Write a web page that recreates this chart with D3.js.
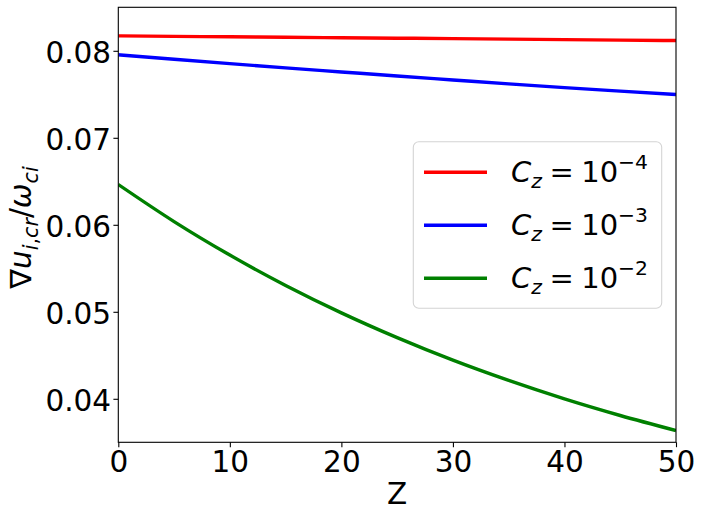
<!DOCTYPE html>
<html>
<head>
<meta charset="utf-8">
<script src="https://cdn.jsdelivr.net/npm/d3@7"></script>
<style>
  html, body { margin: 0; padding: 0; background: #fff; }
  svg { display: block; }
  text { font-family: "DejaVu Sans", sans-serif; fill: #000; }
</style>
</head>
<body>
<svg id="chart" width="701" height="518"></svg>
<script>
// ---- data ----
const zValues = [0, 5, 10, 15, 20, 25, 30, 35, 40, 45, 50];
const seriesCz4 = [0.08172, 0.08166, 0.08161, 0.08155, 0.08150, 0.08145, 0.08140, 0.08134, 0.08129, 0.08123, 0.08118];
const seriesCz3 = [0.07954, 0.07903, 0.07853, 0.07804, 0.07757, 0.07710, 0.07665, 0.07620, 0.07577, 0.07537, 0.07498];
const seriesCz2 = [0.06463, 0.06037, 0.05652, 0.05303, 0.04988, 0.04703, 0.04444, 0.04211, 0.03999, 0.03808, 0.03635];
const seriesExponents = ["−4", "−3", "−2"];
const seriesColors = ["#ff0000", "#0000ff", "#008000"];
const xTicks = [0, 10, 20, 30, 40, 50];
const yTicks = [0.04, 0.05, 0.06, 0.07, 0.08];
const xDomain = [0, 50];
const yDomain = [0.035, 0.085];

const allSeries = [seriesCz4, seriesCz3, seriesCz2];

// ---- layout ----
const svg = d3.select("#chart");
const pLeft = 118.3, pRight = 676, pTop = 7.3, pBottom = 442.3;
const x = d3.scaleLinear().domain(xDomain).range([pLeft, pRight]);
const y = d3.scaleLinear().domain(yDomain).range([pBottom, pTop]);
const fs = 29.5;

// lines
const line = d3.line()
  .x(d => x(d[0]))
  .y(d => y(d[1]))
  .curve(d3.curveMonotoneX);

svg.append("clipPath").attr("id", "plotclip")
  .append("rect").attr("x", pLeft).attr("y", pTop).attr("width", pRight - pLeft).attr("height", pBottom - pTop);

svg.append("g").attr("clip-path", "url(#plotclip)")
  .selectAll("path")
  .data(allSeries)
  .join("path")
  .attr("d", s => line(zValues.map((z, i) => [z, s[i]])))
  .attr("fill", "none")
  .attr("stroke", (d, i) => seriesColors[i])
  .attr("stroke-width", 3.4)
  .attr("stroke-linecap", "butt");

// axes
const xAxis = d3.axisBottom(x).tickValues(xTicks).tickFormat(d3.format("d")).tickSize(4.9).tickPadding(4.9);
const yAxis = d3.axisLeft(y).tickValues(yTicks).tickFormat(d3.format(".2f")).tickSize(4.9).tickPadding(2.3);

const gx = svg.append("g").attr("transform", `translate(0,${pBottom})`).call(xAxis);
const gy = svg.append("g").attr("transform", `translate(${pLeft},0)`).call(yAxis);
[gx, gy].forEach(g => {
  g.attr("font-size", null).attr("font-family", null);
  g.select(".domain").remove();
  g.selectAll(".tick line").attr("stroke", "#000").attr("stroke-width", 1.1);
  g.selectAll(".tick text").style("font-size", fs + "px").style("font-family", "DejaVu Sans").attr("fill", "#000");
});
gy.selectAll(".tick text").attr("dy", 11.2);
gx.selectAll(".tick text").attr("y", 29.4).attr("dy", 0);

// spines
svg.append("rect")
  .attr("x", pLeft).attr("y", pTop)
  .attr("width", pRight - pLeft).attr("height", pBottom - pTop)
  .attr("fill", "none").attr("stroke", "#000").attr("stroke-width", 1.1);

// x label
svg.append("text")
  .attr("x", (pLeft + pRight) / 2).attr("y", 504.3)
  .attr("text-anchor", "middle")
  .style("font-size", fs + "px")
  .text("Z");

// y label (math text)
const labelSize = fs;
const yl = svg.append("text")
  .attr("transform", `translate(31,227.5) rotate(-90)`)
  .attr("text-anchor", "middle")
  .style("font-size", labelSize + "px");
yl.append("tspan").text("∇");
yl.append("tspan").attr("font-style", "italic").text("u");
yl.append("tspan").style("font-size", labelSize * 0.7 + "px").attr("dy", labelSize * 0.22).attr("font-style", "italic").text("i");
yl.append("tspan").style("font-size", labelSize * 0.7 + "px").text(",");
yl.append("tspan").style("font-size", labelSize * 0.7 + "px").attr("font-style", "italic").text("cr");
yl.append("tspan").attr("dy", -labelSize * 0.22).text("/");
yl.append("tspan").attr("font-style", "italic").text("ω");
yl.append("tspan").style("font-size", labelSize * 0.7 + "px").attr("dy", labelSize * 0.22).attr("font-style", "italic").text("ci");

// legend
const legX = 413.3, legY = 141.7, legW = 248.4, legH = 166.6;
svg.append("rect")
  .attr("x", legX).attr("y", legY).attr("width", legW).attr("height", legH)
  .attr("rx", 5.5).attr("ry", 5.5)
  .attr("fill", "#fff").attr("fill-opacity", 0.8)
  .attr("stroke", "#d4d4d4").attr("stroke-width", 1.1);

const legFont = 29;
const rowY = [172.3, 225.3, 278.3];
const items = svg.append("g").selectAll("g")
  .data(seriesExponents)
  .join("g");
items.append("line")
  .attr("x1", 424).attr("x2", 487)
  .attr("y1", (d, i) => rowY[i]).attr("y2", (d, i) => rowY[i])
  .attr("stroke", (d, i) => seriesColors[i])
  .attr("stroke-width", 3.4);
items.each(function(d, i) {
  const t = d3.select(this).append("text")
    .attr("x", 648).attr("y", rowY[i] + 9.4)
    .attr("text-anchor", "end")
    .style("font-size", legFont + "px");
  t.append("tspan").attr("font-style", "italic").text("C");
  t.append("tspan").attr("font-style", "italic").style("font-size", legFont * 0.7 + "px").attr("dy", legFont * 0.22).text("z");
  t.append("tspan").attr("dy", -legFont * 0.22).attr("dx", 7.5).text("=");
  t.append("tspan").attr("dx", 7.5).text("10");
  t.append("tspan").style("font-size", legFont * 0.7 + "px").attr("dy", -legFont * 0.45).text(d);
});
</script>
</body>
</html>
